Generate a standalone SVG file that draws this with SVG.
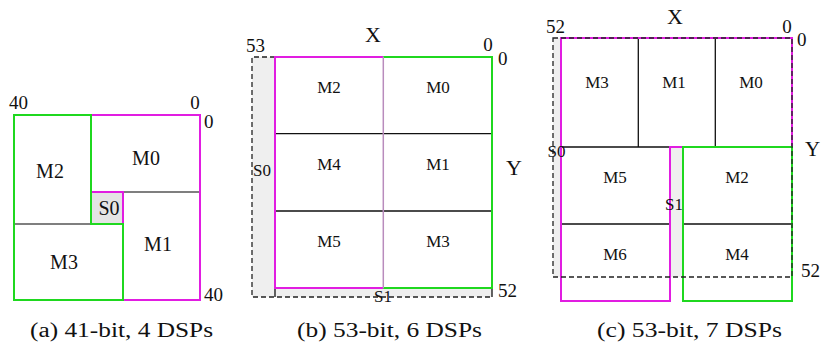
<svg xmlns="http://www.w3.org/2000/svg" width="821" height="347" viewBox="0 0 821 347" font-family="'Liberation Serif', 'DejaVu Serif', serif">
<style>
text{font-family:'Liberation Serif','Times New Roman','DejaVu Serif',serif;fill:#111}
.m{font-size:20px;text-anchor:middle}
.ms{font-size:17px;text-anchor:middle}
.n{font-size:19px}
.xy{font-size:22px}
.cap{font-size:20px}
.mag{fill:none;stroke:#e11de1;stroke-width:2}
.grn{fill:none;stroke:#1fd81f;stroke-width:2}
.ln{fill:none;stroke:#111;stroke-width:1.3}
.lg{fill:none;stroke:#555;stroke-width:1.5}
.dash{fill:none;stroke:#222;stroke-width:1.3;stroke-dasharray:5,3}
.sh{fill:#efefef;stroke:none}
</style>
<rect width="821" height="347" fill="#fff"/>

<!-- Panel a -->
<g id="panel-a">
  <g id="a-S0"><rect class="sh" x="91" y="192" width="32" height="32" style="fill:#e4e4e4"/><text class="m" x="109" y="215">S0</text></g>
  <g id="connectors-a">
    <path class="lg" d="M14,224H91M123,192H200"/>
    <path class="mag" d="M91,115H200V300H123V192H91Z"/>
    <path class="grn" d="M14,115H91V224H123V300H14Z"/>
  </g>
  <g id="a-M0"><text class="m" x="146" y="165">M0</text></g>
  <g id="a-M1"><text class="m" x="158" y="251">M1</text></g>
  <g id="a-M2"><text class="m" x="50" y="178">M2</text></g>
  <g id="a-M3"><text class="m" x="64" y="269">M3</text></g>
  <text class="n" x="9" y="109">40</text>
  <text class="n" x="195" y="109" text-anchor="middle">0</text>
  <text class="n" x="204" y="128">0</text>
  <text class="n" x="204" y="301">40</text>
  <text class="cap" x="30" y="337" textLength="183" lengthAdjust="spacingAndGlyphs">(a)  41-bit, 4 DSPs</text>
</g>

<!-- Panel b -->
<g id="panel-b">
  <g id="b-S0"><rect class="sh" x="252" y="57" width="23" height="240"/><text class="ms" x="262" y="176">S0</text></g>
  <g id="b-S1"><rect class="sh" x="275" y="288" width="217" height="9"/></g>
  <g id="connectors-b">
    <path class="dash" d="M275,57H252V297H492"/>
    <path class="ln" d="M492,288V297M275,288V297"/>
    <path class="ln" d="M275,133.7H492M275,211H492"/>
    <path class="mag" d="M383.3,57H275V288H383.3"/>
    <path class="grn" d="M383.3,57H492V288H383.3"/>
    <path d="M383.3,57V288" stroke="#b98cbd" stroke-width="1.5" fill="none"/>
  </g>
  <text class="ms" x="383" y="302">S1</text>
  <g id="b-M2"><text class="ms" x="329" y="93">M2</text></g>
  <g id="b-M0"><text class="ms" x="438" y="93">M0</text></g>
  <g id="b-M4"><text class="ms" x="329" y="170">M4</text></g>
  <g id="b-M1"><text class="ms" x="438" y="170">M1</text></g>
  <g id="b-M5"><text class="ms" x="329" y="247">M5</text></g>
  <g id="b-M3"><text class="ms" x="438" y="247">M3</text></g>
  <text class="n" x="246" y="52">53</text>
  <text class="xy" x="373" y="42" text-anchor="middle">X</text>
  <text class="n" x="488" y="51" text-anchor="middle">0</text>
  <text class="n" x="498" y="65">0</text>
  <text class="xy" x="506" y="175">Y</text>
  <text class="n" x="498" y="297">52</text>
  <text class="cap" x="297" y="337" textLength="185" lengthAdjust="spacingAndGlyphs">(b)  53-bit, 6 DSPs</text>
</g>

<!-- Panel c -->
<g id="panel-c">
  <g id="c-S0"><rect class="sh" x="553" y="38" width="8" height="239"/></g>
  <g id="c-S1"><rect class="sh" x="670" y="147" width="13" height="130"/></g>
  <g id="connectors-c">
    <path class="ln" d="M638.3,38V147M715.3,38V147M561,147H670M561,224H670M683,224H792"/>
    <path class="mag" d="M670,301V147H792V38H561V301Z"/>
    <path class="grn" d="M683,147H792V301H683Z"/>
    <rect class="dash" x="553" y="38" width="239" height="239"/>
  </g>
  <text class="ms" x="556.5" y="157">S0</text>
  <text class="ms" x="674" y="210">S1</text>
  <g id="c-M3"><text class="ms" x="597" y="88">M3</text></g>
  <g id="c-M1"><text class="ms" x="674" y="88">M1</text></g>
  <g id="c-M0"><text class="ms" x="751" y="88">M0</text></g>
  <g id="c-M5"><text class="ms" x="615" y="183">M5</text></g>
  <g id="c-M2"><text class="ms" x="737" y="183">M2</text></g>
  <g id="c-M6"><text class="ms" x="615" y="260">M6</text></g>
  <g id="c-M4"><text class="ms" x="737" y="260">M4</text></g>
  <text class="n" x="546" y="33">52</text>
  <text class="xy" x="675" y="24" text-anchor="middle">X</text>
  <text class="n" x="787" y="33" text-anchor="middle">0</text>
  <text class="n" x="797" y="46">0</text>
  <text class="xy" x="805" y="156" style="font-size:21px">Y</text>
  <text class="n" x="801" y="277">52</text>
  <text class="cap" x="597" y="337" textLength="185" lengthAdjust="spacingAndGlyphs">(c)  53-bit, 7 DSPs</text>
</g>
</svg>
